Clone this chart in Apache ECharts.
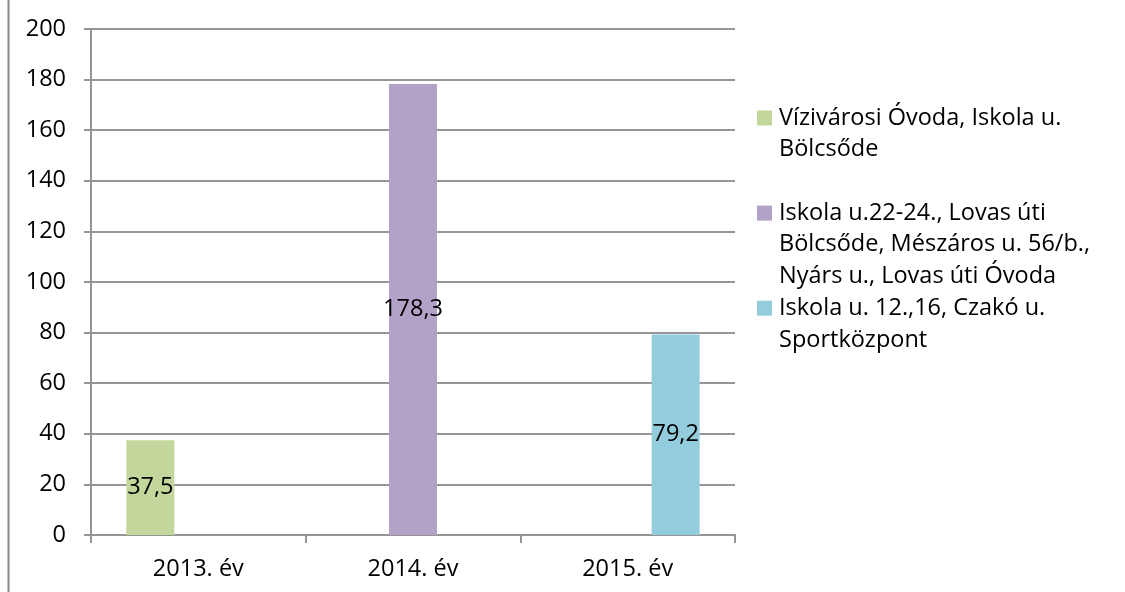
<!DOCTYPE html>
<html>
<head>
<meta charset="utf-8">
<script src="https://cdn.jsdelivr.net/npm/echarts@6/dist/echarts.min.js"></script>
<style>
  html, body { margin: 0; padding: 0; background: #fff; }
  #chart { width: 1125px; height: 592px; }
</style>
</head>
<body>
<div id="chart"></div>
<script>
// adatok
var years = ['2013. év', '2014. év', '2015. év'];
var seriesNames = [
    'Vízivárosi Óvoda, Iskola u. Bölcsőde',
    'Iskola u.22-24., Lovas úti Bölcsőde, Mészáros u. 56/b., Nyárs u., Lovas úti Óvoda',
    'Iskola u. 12.,16, Czakó u. Sportközpont'
];
// jelmagyarázat sorai (tördelve, mint az eredetin)
var legendLines = [
    ['Vízivárosi Óvoda, Iskola u.', 'Bölcsőde'],
    ['Iskola u.22-24., Lovas úti', 'Bölcsőde, Mészáros u. 56/b.,', 'Nyárs u., Lovas úti Óvoda'],
    ['Iskola u. 12.,16, Czakó u.', 'Sportközpont']
];
var vizivarosi = [37.5, null, null];
var iskola2224 = [null, 178.3, null];
var iskola1216 = [null, null, 79.2];
var colors = ['#c3d69b', '#b3a2c7', '#93cddd'];
var yTicks = { min: 0, max: 200, interval: 20 };

var FONT = 'Open Sans';
var FS = 23.5;
var LH = 31.7;
var LINE = '#959595';
var chart = echarts.init(document.getElementById('chart'));

var rich = {
    t: { fontFamily: FONT, fontSize: FS, lineHeight: LH, color: '#000' },
    g: { width: 7 },
    p: { width: 22 }
};
colors.forEach(function (c, i) {
    rich['s' + i] = { width: 15, height: 15, backgroundColor: c };
});

function legendText(name) {
    var idx = seriesNames.indexOf(name);
    return legendLines[idx].map(function (l, j) {
        return (j === 0 ? '{s' + idx + '|}{g|}' : '{p|}') + '{t|' + l + '}';
    }).join('\n');
}

// minden tételnek külön jelmagyarázat, 3 soros helyen
function makeLegend(i) {
    return {
        orient: 'vertical',
        left: 752,
        top: 106 + i * 3 * LH,
        padding: 0,
        itemWidth: 0,
        itemHeight: 0,
        icon: 'none',
        data: [seriesNames[i]],
        formatter: legendText,
        textStyle: { rich: rich, fontFamily: FONT, fontSize: FS, color: '#000' }
    };
}

function makeSeries(i, data) {
    return {
        name: seriesNames[i],
        type: 'bar',
        data: data,
        barWidth: 48,
        barGap: '0%',
        itemStyle: { color: colors[i] },
        label: {
            show: true,
            position: 'inside',
            color: '#000',
            fontFamily: FONT,
            fontSize: FS,
            formatter: function (p) { return String(p.value).replace('.', ','); }
        }
    };
}

chart.setOption({
    animation: false,
    backgroundColor: '#fff',
    textStyle: { fontFamily: FONT },
    graphic: [{
        type: 'line',
        shape: { x1: 8.5, y1: 0, x2: 8.5, y2: 592 },
        style: { stroke: '#888', lineWidth: 2 }
    }],
    grid: { left: 91, right: 390, top: 29, bottom: 57 },
    legend: [makeLegend(0), makeLegend(1), makeLegend(2)],
    xAxis: {
        type: 'category',
        data: years,
        axisLine: { lineStyle: { color: LINE, width: 2 } },
        axisTick: { show: true, length: 8, lineStyle: { color: LINE, width: 2 } },
        axisLabel: { color: '#000', fontFamily: FONT, fontSize: FS, margin: 22 }
    },
    yAxis: {
        type: 'value',
        min: yTicks.min,
        max: yTicks.max,
        interval: yTicks.interval,
        axisLine: { show: true, lineStyle: { color: LINE, width: 2 } },
        axisTick: { show: true, length: 7, lineStyle: { color: LINE, width: 2 } },
        axisLabel: { color: '#000', fontFamily: FONT, fontSize: FS, margin: 25 },
        splitLine: { show: true, lineStyle: { color: LINE, width: 2 } }
    },
    series: [
        makeSeries(0, vizivarosi),
        makeSeries(1, iskola2224),
        makeSeries(2, iskola1216)
    ]
});
</script>
</body>
</html>
